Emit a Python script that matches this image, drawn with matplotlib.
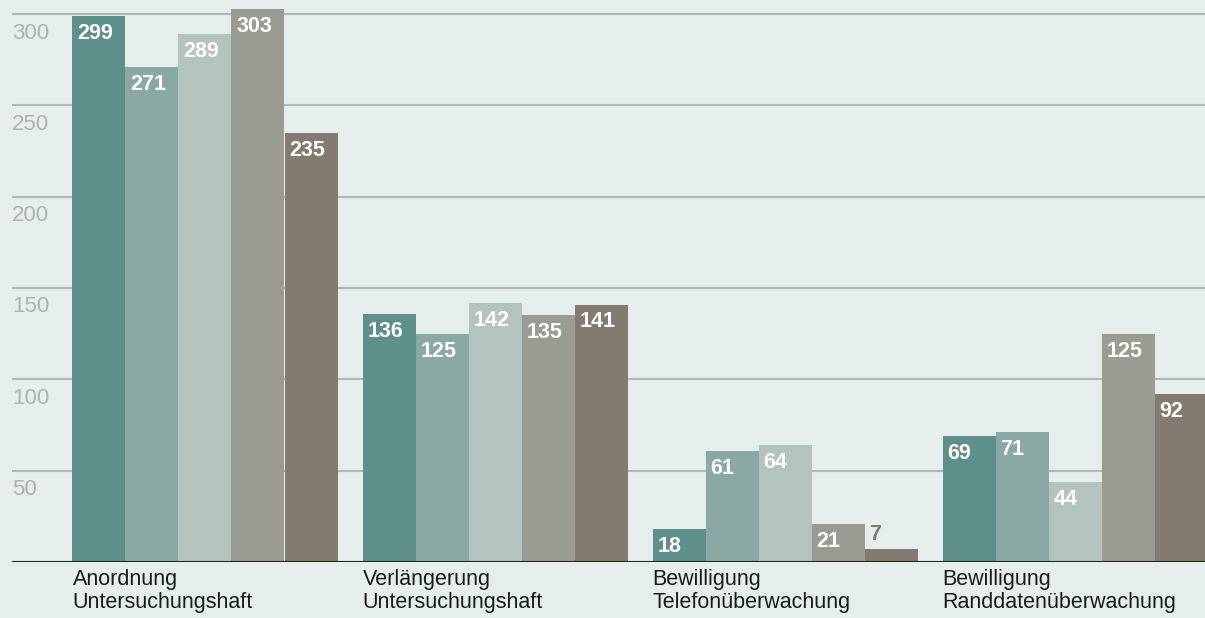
import matplotlib
matplotlib.use("Agg")
import matplotlib.pyplot as plt
import matplotlib.transforms as mtransforms
import numpy as np

plt.rcParams['font.family'] = ['Liberation Sans', 'DejaVu Sans']

categories = ["Anordnung\nUntersuchungshaft", "Verlängerung\nUntersuchungshaft",
              "Bewilligung\nTelefonüberwachung", "Bewilligung\nRanddatenüberwachung"]
series_1 = [299, 136, 18, 69]
series_2 = [271, 125, 61, 71]
series_3 = [289, 142, 64, 44]
series_4 = [303, 135, 21, 125]
series_5 = [235, 141, 7, 92]
series = [series_1, series_2, series_3, series_4, series_5]
colors = ["#5f8f8b", "#8aa9a4", "#b3c3be", "#9a9b92", "#837b70"]
yticks = [50, 100, 150, 200, 250, 300]

W, H, DPI = 1205, 618, 100
fig = plt.figure(figsize=(W / DPI, H / DPI), dpi=DPI)
bg = "#e6eeed"
fig.patch.set_facecolor(bg)

left_px, right_px, bottom_px, top_px = 12, 1205, 562, 0
ax = fig.add_axes([left_px / W, (H - bottom_px) / H, (right_px - left_px) / W, (bottom_px - top_px) / H])
ax.set_facecolor(bg)

bw = 53 / 290
x = np.arange(len(categories))
ax.set_xlim(-193 / 290, 3 + 130 / 290)
ax.set_ylim(0, 562 / 1.826)

for t in yticks:
    ax.axhline(t, color="#b4b7b6", lw=1.5, zorder=0)
    ax.annotate(str(t), xy=(0, t), xycoords=mtransforms.blended_transform_factory(ax.transAxes, ax.transData),
                xytext=(0, -6), textcoords="offset points", ha="left", va="top",
                fontsize=16, color="#b0b2b1")
ax.axhline(0, color="#222222", lw=1.5, zorder=3)

for i, (vals, c) in enumerate(zip(series, colors)):
    pos = x - 2.5 * bw + i * bw + bw / 2
    bars = ax.bar(pos, vals, width=bw, color=c, zorder=2, linewidth=0)
    for p, v in zip(pos, vals):
        if v >= 15:
            ax.annotate(str(v), xy=(p - bw / 2, v), xytext=(3.5, -5), textcoords="offset points",
                        ha="left", va="top", fontsize=15.5, fontweight="bold", color="white", zorder=4)
        else:
            ax.annotate(str(v), xy=(p - bw / 2, v), xytext=(3.5, 3), textcoords="offset points",
                        ha="left", va="bottom", fontsize=15.5, fontweight="bold", color=c, zorder=4)

for xi, cat in zip(x, categories):
    ax.annotate(cat, xy=(xi - 2.5 * bw, 0), xytext=(0, -5), textcoords="offset points",
                ha="left", va="top", fontsize=15.5, color="#1a1a1a", linespacing=1.12,
                annotation_clip=False)

ax.set_xticks([])
ax.set_yticks([])
for s in ax.spines.values():
    s.set_visible(False)

fig.savefig("out.png", dpi=DPI, facecolor=bg)
